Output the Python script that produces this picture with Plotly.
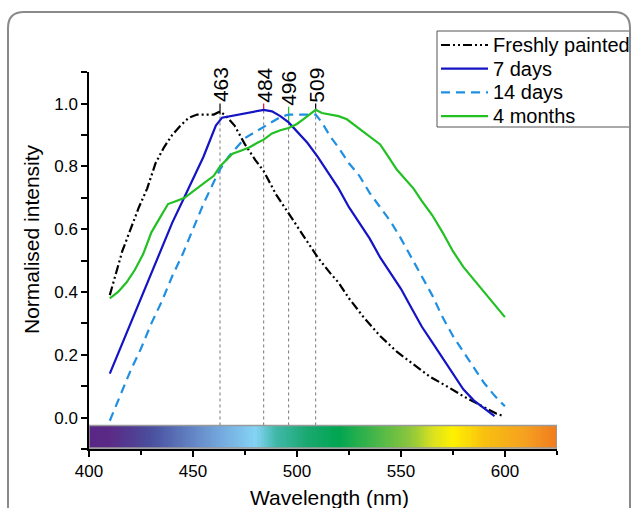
import numpy as np
import plotly.graph_objects as go

# ---------------- data ----------------
fresh_wl = [410, 413, 416, 420, 424, 428, 432, 436, 440, 444, 448, 452, 456, 460, 463,
            466, 470, 475, 480, 484, 490, 495, 500, 505, 510, 516, 520, 525, 532, 540,
            548, 556, 564, 572, 580, 588, 596, 599]
fresh_val = [0.39, 0.46, 0.53, 0.60, 0.67, 0.73, 0.81, 0.86, 0.90, 0.93, 0.955, 0.965, 0.965, 0.965, 0.975,
             0.96, 0.93, 0.87, 0.82, 0.785, 0.71, 0.66, 0.61, 0.56, 0.51, 0.46, 0.43, 0.38, 0.32, 0.26,
             0.21, 0.17, 0.13, 0.10, 0.068, 0.04, 0.012, 0.006]

d7_wl = [410, 415, 420, 425, 430, 435, 440, 445, 450, 455, 458, 461, 464, 468, 472, 476, 480, 484,
         488, 492, 496, 500, 505, 510, 515, 520, 525, 530, 535, 540, 545, 550, 555, 560, 565, 570,
         575, 580, 585, 590, 595]
d7_val = [0.14, 0.22, 0.30, 0.38, 0.46, 0.54, 0.62, 0.69, 0.76, 0.83, 0.88, 0.93, 0.955, 0.96, 0.965, 0.97, 0.975, 0.98,
          0.975, 0.96, 0.94, 0.91, 0.875, 0.83, 0.78, 0.73, 0.67, 0.62, 0.57, 0.51, 0.46, 0.41, 0.35, 0.29, 0.24, 0.19,
          0.14, 0.09, 0.055, 0.03, 0.005]

d14_wl = [410, 415, 420, 425, 430, 435, 440, 445, 450, 455, 460, 463, 467, 471, 475, 480, 484, 488,
          492, 496, 500, 505, 509, 512, 516, 520, 525, 530, 535, 540, 545, 550, 555, 560, 565, 570,
          575, 580, 585, 590, 595, 600]
d14_val = [-0.01, 0.07, 0.15, 0.22, 0.30, 0.37, 0.45, 0.52, 0.60, 0.68, 0.75, 0.79, 0.83, 0.86, 0.89, 0.91, 0.925, 0.94,
           0.957, 0.965, 0.965, 0.965, 0.965, 0.94, 0.895, 0.86, 0.81, 0.77, 0.715, 0.67, 0.625, 0.57, 0.51, 0.45, 0.39, 0.32,
           0.26, 0.21, 0.16, 0.11, 0.07, 0.036]

m4_wl = [410, 414, 418, 422, 426, 430, 434, 438, 442, 446, 450, 455, 460, 463, 466, 469, 473, 477,
         481, 484, 488, 492, 496, 500, 503, 506, 509, 512, 516, 520, 524, 528, 532, 536, 540, 544,
         548, 552, 556, 560, 565, 570, 575, 580, 585, 590, 595, 600]
m4_val = [0.38, 0.40, 0.43, 0.47, 0.52, 0.59, 0.635, 0.68, 0.69, 0.70, 0.72, 0.745, 0.77, 0.80, 0.82, 0.84, 0.85, 0.86,
          0.875, 0.885, 0.905, 0.915, 0.922, 0.935, 0.95, 0.965, 0.98, 0.97, 0.965, 0.96, 0.95, 0.93, 0.91, 0.89, 0.87, 0.83,
          0.79, 0.76, 0.73, 0.69, 0.645, 0.59, 0.53, 0.48, 0.44, 0.40, 0.36, 0.32]

series_names = ['Freshly painted', '7 days', '14 days', '4 months']
series_colors = ['#000000', '#1414C4', '#1E8FE3', '#22C022']
series_dash = ['9px,3px,2px,3px,2px,3px', 'solid', '9px,6px', 'solid']

peak_wl = [463, 484, 496, 509]
peak_val = [0.965, 0.98, 0.94, 0.98]
peak_tick_top = [1.0, 1.0, 0.99, 1.0]
peak_tick_color = ['#000000', '#E0102A', '#22C022', '#000000']
peak_labels = ['463', '484', '496', '509']

spectrum_wl = [400, 410, 430, 460, 480, 490, 505, 520, 540, 555, 565, 575, 590, 610, 625]
spectrum_col = ['#5A2686', '#5A2A86', '#4A4F9E', '#70A0D8', '#85D3F5', '#40B8A8', '#1AA870', '#00A651',
                '#50B848', '#90C83C', '#D8E020', '#FFF200', '#F8C010', '#F5A020', '#F07B1F']
bar_bottom, bar_top = -0.097, -0.025

FONT = 'Arial, Liberation Sans, sans-serif'

fig = go.Figure()

# colour bar
edges = np.linspace(400, 625, 226)
mids = (edges[:-1] + edges[1:]) / 2
lo, hi = spectrum_wl[0], spectrum_wl[-1]
cscale = [[(w - lo) / (hi - lo), c] for w, c in zip(spectrum_wl, spectrum_col)]
fig.add_trace(go.Heatmap(x=edges, y=[bar_bottom, bar_top], z=[mids], colorscale=cscale,
                         zmin=lo, zmax=hi, showscale=False, hoverinfo='skip'))
fig.add_shape(type='rect', x0=400, x1=625, y0=bar_bottom, y1=bar_top, xref='x', yref='y',
              line=dict(color='#9a9a9a', width=1.5))

# dotted peak lines and coloured ticks
for w, v, t, c, lab in zip(peak_wl, peak_val, peak_tick_top, peak_tick_color, peak_labels):
    fig.add_trace(go.Scatter(x=[w, w], y=[bar_top, v], mode='lines',
                             line=dict(color='#777777', width=1, dash='dot'), hoverinfo='skip'))
    fig.add_trace(go.Scatter(x=[w, w], y=[v, t], mode='lines',
                             line=dict(color=c, width=1.2), hoverinfo='skip'))
    fig.add_annotation(x=w, y=t, text=lab, textangle=-90, showarrow=False,
                       xanchor='center', yanchor='bottom', xref='x', yref='y',
                       font=dict(family=FONT, size=21, color='black'), borderpad=0)

for wl, val, n, c, d in zip([fresh_wl, d7_wl, d14_wl, m4_wl], [fresh_val, d7_val, d14_val, m4_val],
                            series_names, series_colors, series_dash):
    fig.add_trace(go.Scatter(x=wl, y=val, mode='lines', name=n,
                             line=dict(color=c, width=2.2, dash=d)))

W, H, L, R, T, B = 632, 508, 89, 75, 72, 59
pw, ph = W - L - R, H - T - B
def px(x):
    return (x - L) / pw
def py(y):
    return (H - B - y) / ph

# axis titles
fig.add_annotation(x=px(31), y=py(239), xref='paper', yref='paper', text='Normalised intensity',
                   textangle=-90, showarrow=False, xanchor='center', yanchor='middle',
                   font=dict(family=FONT, size=21, color='black'))
fig.add_annotation(x=px(329), y=py(497), xref='paper', yref='paper', text='Wavelength (nm)',
                   showarrow=False, xanchor='center', yanchor='middle',
                   font=dict(family=FONT, size=21, color='black'))

# legend (drawn manually for exact spacing)
fig.add_shape(type='rect', xref='paper', yref='paper', x0=px(437), x1=px(630), y0=py(127), y1=py(31),
              line=dict(color='#555555', width=1), fillcolor='white', layer='above')
for i, (n, c, d) in enumerate(zip(series_names, series_colors, series_dash)):
    yy = py(45 + i * 23.7)
    fig.add_shape(type='line', xref='paper', yref='paper', x0=px(441), x1=px(488), y0=yy, y1=yy,
                  line=dict(color=c, width=2.2, dash=d), layer='above')
    fig.add_annotation(x=px(491), y=yy, xref='paper', yref='paper', text=n, showarrow=False,
                       xanchor='left', yanchor='middle', font=dict(family=FONT, size=20, color='black'))

# outer rounded frame
x0, x1, y0, y1, r = px(8), px(630), py(12), py(530), 16
dx, dy = r / pw, r / ph
path = (f'M {x0},{y1} L {x0},{y0 - dy} Q {x0},{y0} {x0 + dx},{y0} '
        f'L {x1 - dx},{y0} Q {x1},{y0} {x1},{y0 - dy} L {x1},{y1}')
fig.add_shape(type='path', path=path, xref='paper', yref='paper',
              line=dict(color='#8a8a8a', width=2))

fig.update_layout(
    width=W, height=H, margin=dict(l=L, r=R, t=T, b=B, autoexpand=False),
    paper_bgcolor='white', plot_bgcolor='white', showlegend=False,
    font=dict(family=FONT, color='black'),
    xaxis=dict(range=[400, 625.05], showgrid=False, zeroline=False, showline=True,
               linecolor='black', linewidth=1.5, ticks='outside', ticklen=6, tickwidth=1.5,
               tickcolor='black', dtick=50, tick0=400, tickfont=dict(size=17),
               minor=dict(dtick=25, ticks='outside', ticklen=4, tickwidth=1.5, tickcolor='black')),
    yaxis=dict(range=[-0.1, 1.1005], showgrid=False, zeroline=False, showline=True,
               linecolor='black', linewidth=1.5, ticks='outside', ticklen=6, tickwidth=1.5,
               tickcolor='black', dtick=0.2, tick0=0, tickformat='.1f', tickfont=dict(size=17),
               minor=dict(dtick=0.1, ticks='outside', ticklen=6, tickwidth=1.5, tickcolor='black')),
)

fig.write_html('out.html')
